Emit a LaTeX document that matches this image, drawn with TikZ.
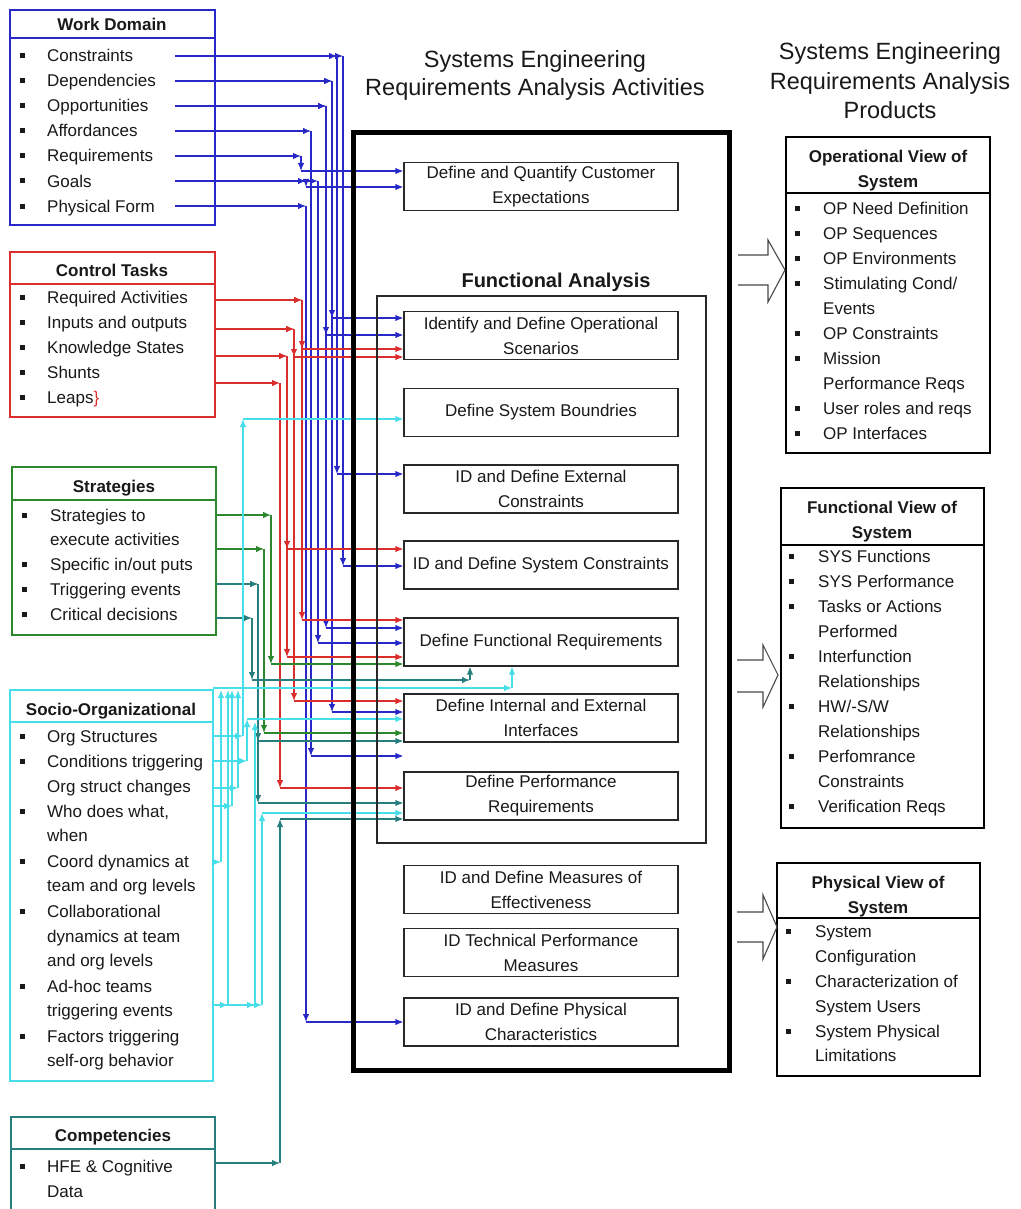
\documentclass[tikz,border=0pt]{standalone}
\usepackage{fontspec}
\setmainfont{Liberation Sans}
\usetikzlibrary{arrows.meta}
\definecolor{txt}{RGB}{25,25,25}
\definecolor{wdc}{RGB}{40,40,200}
\definecolor{ctc}{RGB}{220,45,45}
\definecolor{stc}{RGB}{45,135,45}
\definecolor{tlc}{RGB}{40,125,125}
\definecolor{cyc}{RGB}{70,222,232}
\definecolor{bxc}{RGB}{40,40,40}
\newcommand\cnx[6]{%
 \draw[#1] (#2,#3) -- (#4,#3);
 \draw[#1] (#4,#3) -- (#4,#5);
 \draw[#1] (#4,#5) -- (#6.west |- 0,#5);}
\newcommand\cnxup[7]{%
 \draw[#1] (#2,#3) -- (#4,#3);
 \draw[#1] (#4,#3) -- (#4,#5);
 \draw[#1] (#4,#5) -- (#6,#5);
 \draw[#1] (#6,#5) -- (#7.south -| #6,0);}
\newcommand\cnxv[5]{%
 \draw[#1] (#2,#3) -- (#4,#3);
 \draw[#1] (#4,#3) -- (#4,#5);}
\newcommand\bitem[5]{%
 \fill[txt] (#2-2.5,#4-2.5) rectangle (#2+2.5,#4+2.5);
 \node[itm] (#1) at (#3,#4+6) {#5};}
\newcommand\citem[4]{\node[itm] (#1) at (#2,#3+6) {#4};}
\tikzset{
 ln/.style={line width=1.2pt, -{Latex[length=8pt,width=6.5pt]}},
 bl/.style={ln, draw=wdc, fill=wdc},
 rd/.style={ln, draw=ctc, fill=ctc},
 gr/.style={ln, draw=stc, fill=stc},
 tl/.style={ln, draw=tlc, fill=tlc},
 cy/.style={ln, draw=cyc, fill=cyc},
 itm/.style={anchor=base west, inner sep=0pt, text=txt, font=\fontsize{17}{25}\selectfont},
 ttl/.style={anchor=base, inner sep=0pt, text=txt, font=\bfseries\fontsize{17}{25}\selectfont},
 hd/.style={anchor=base, inner sep=0pt, text=txt, font=\fontsize{23.5}{29}\selectfont},
 abox/.style={draw=bxc, line width=1.2pt, minimum width=274pt, minimum height=48pt, inner sep=0pt, align=center, text=txt, font=\fontsize{17}{25}\selectfont},
 lbox/.style={line width=2pt, inner sep=0pt},
 hol/.style={draw=bxc!85, line width=1.1pt},
}
\begin{document}
\begin{tikzpicture}[x=1pt,y=-1pt]
\useasboundingbox (0,0) rectangle (1020,1209);
\fill[white] (0,0) rectangle (1020,1209);

% ---------- middle boxes ----------
\node[abox] (cust) at (541,186.5) {Define and Quantify Customer\\Expectations};
\node[abox] (opsc) at (541,335.5) {Identify and Define Operational\\Scenarios};
\node[abox] (sysb) at (541,412.5) {Define System Boundries};
\node[abox] (extc) at (541,489) {ID and Define External\\Constraints};
\node[abox] (sysc) at (541,565) {ID and Define System Constraints};
\node[abox] (funr) at (541,642) {Define Functional Requirements};
\node[abox] (intf) at (541,718) {Define Internal and External\\Interfaces};
\node[abox] (perf) at (541,796) {Define Performance\\Requirements};
\node[abox] (moe) at (541,889.5) {ID and Define Measures of\\Effectiveness};
\node[abox] (tpm) at (541,952.5) {ID Technical Performance\\Measures};
\node[abox] (phys) at (541,1022) {ID and Define Physical\\Characteristics};

% ---------- headings ----------
\node[hd] (h1) at (535,68) {Systems Engineering};
\node[hd] (h2) at (535,96) {Requirements Analysis Activities};
\node[hd] (h3) at (890,60) {Systems Engineering};
\node[hd] (h4) at (890,90) {Requirements Analysis};
\node[hd] (h5) at (890,119) {Products};
\node[anchor=base, inner sep=0pt, text=txt, font=\bfseries\fontsize{20}{24}\selectfont] (fa) at (556,287) {Functional Analysis};

% ---------- Work Domain ----------
\node[lbox, draw=wdc, minimum width=205pt, minimum height=215pt] (wd) at (112.5,117.5) {};
\draw[wdc, line width=2pt] (wd.west |- 0,38) -- (wd.east |- 0,38);
\node[ttl] (wdt) at (112,31) {Work Domain};
\bitem{wd1}{22}{47}{56}{Constraints}
\bitem{wd2}{22}{47}{81}{Dependencies}
\bitem{wd3}{22}{47}{106}{Opportunities}
\bitem{wd4}{22}{47}{131}{Affordances}
\bitem{wd5}{22}{47}{156}{Requirements}
\bitem{wd6}{22}{47}{181}{Goals}
\bitem{wd7}{22}{47}{206}{Physical Form}

% ---------- Control Tasks ----------
\node[lbox, draw=ctc, minimum width=205pt, minimum height=165pt] (ct) at (112.5,334.5) {};
\draw[ctc, line width=2pt] (ct.west |- 0,284) -- (ct.east |- 0,284);
\node[ttl] (ctt) at (112,276) {Control Tasks};
\bitem{ct1}{22}{47}{297}{Required Activities}
\bitem{ct2}{22}{47}{322}{Inputs and outputs}
\bitem{ct3}{22}{47}{347}{Knowledge States}
\bitem{ct4}{22}{47}{372}{Shunts}
\bitem{ct5}{22}{47}{397}{Leaps\textcolor{ctc}{\}}}

% ---------- Strategies ----------
\node[lbox, draw=stc, minimum width=204pt, minimum height=168pt] (st) at (114,551) {};
\draw[stc, line width=2pt] (st.west |- 0,500) -- (st.east |- 0,500);
\node[ttl] (stt) at (114,492) {Strategies};
\bitem{st1}{24}{50}{515}{Strategies to}
\citem{st1b}{50}{539}{execute activities}
\bitem{st2}{24}{50}{564}{Specific in/out\ puts}
\bitem{st3}{24}{50}{589}{Triggering events}
\bitem{st4}{24}{50}{614}{Critical decisions}

% ---------- Socio-Organizational ----------
\node[lbox, draw=cyc, minimum width=203pt, minimum height=391pt] (so) at (111.5,885.5) {};
\draw[cyc, line width=2pt] (so.west |- 0,722) -- (so.east |- 0,722);
\node[ttl] (sot) at (111,715) {Socio-Organizational};
\bitem{so1}{22}{47}{736}{Org Structures}
\bitem{so2}{22}{47}{761}{Conditions triggering}
\citem{so2b}{47}{786}{Org struct changes}
\bitem{so3}{22}{47}{811}{Who does what,}
\citem{so3b}{47}{835}{when}
\bitem{so4}{22}{47}{861}{Coord dynamics at}
\citem{so4b}{47}{885}{team and org levels}
\bitem{so5}{22}{47}{911}{Collaborational}
\citem{so5b}{47}{936}{dynamics at team}
\citem{so5c}{47}{960}{and org levels}
\bitem{so6}{22}{47}{986}{Ad-hoc teams}
\citem{so6b}{47}{1010}{triggering events}
\bitem{so7}{22}{47}{1036}{Factors triggering}
\citem{so7b}{47}{1060}{self-org behavior}

% ---------- Competencies ----------
\node[lbox, draw=tlc, minimum width=204pt, minimum height=103pt] (co) at (113,1168.5) {};
\draw[tlc, line width=2pt] (co.west |- 0,1149) -- (co.east |- 0,1149);
\node[ttl] (cot) at (113,1141) {Competencies};
\bitem{co1}{22}{47}{1166}{HFE \& Cognitive}
\citem{co1b}{47}{1191}{Data}

% ---------- connectors: Work Domain ----------
\cnx{bl}{175}{56}{337}{474}{extc}
\cnx{bl}{175}{56}{343}{566}{sysc}
\cnx{bl}{175}{81}{332}{318}{opsc}
\cnx{bl}{175}{81}{332}{712}{intf}
\cnx{bl}{175}{106}{326}{335}{opsc}
\cnx{bl}{175}{106}{326}{628}{funr}
\cnx{bl}{175}{131}{311}{756}{intf}
\cnx{bl}{175}{156}{301}{171}{cust}
\cnx{bl}{175}{181}{306}{187}{cust}
\cnx{bl}{175}{181}{318}{643}{funr}
\cnx{bl}{175}{206}{306}{1022}{phys}

% ---------- connectors: Control Tasks ----------
\cnx{rd}{215}{300}{302}{349}{opsc}
\cnx{rd}{215}{300}{302}{620}{funr}
\cnx{rd}{215}{329}{294}{357}{opsc}
\cnx{rd}{215}{329}{294}{701}{intf}
\cnx{rd}{215}{356}{287}{549}{sysc}
\cnx{rd}{215}{356}{287}{657}{funr}
\cnx{rd}{215}{383}{280}{788}{perf}

% ---------- connectors: Strategies ----------
\cnx{gr}{216}{515}{271}{664}{funr}
\cnx{gr}{216}{549}{264}{733}{intf}
\cnx{tl}{216}{584}{258}{741}{intf}
\cnx{tl}{216}{584}{258}{803}{perf}
\cnxup{tl}{216}{618}{252}{680}{470}{funr}

% ---------- connectors: Socio-Organizational ----------
\draw[cy] (213,688) -- (512,688);
\draw[cy] (512,688) -- (funr.south -| 512,0);
\cnx{cy}{213}{736}{243}{419}{sysb}
\cnx{cy}{213}{761}{247}{719}{intf}
\cnxv{cy}{213}{788}{238}{690}
\cnxv{cy}{213}{806}{232}{690}
\cnxv{cy}{213}{862}{221}{690}
\cnx{cy}{213}{1005}{262}{813}{perf}
\cnxv{cy}{213}{1005}{228}{690}
\cnxv{cy}{213}{1005}{255}{722}

% ---------- connectors: Competencies ----------
\cnx{tl}{215}{1163}{280}{819}{perf}

% ---------- frames ----------
\node[draw=bxc, line width=1.5pt, minimum width=329pt, minimum height=547pt, inner sep=0pt] (fab) at (541.5,569.5) {};
\node[draw=black, line width=5pt, minimum width=376pt, minimum height=937pt, inner sep=0pt] (act) at (541,601.5) {};

% ---------- Operational view ----------
\node[lbox, draw=black, minimum width=204pt, minimum height=316pt] (ov) at (888,295) {};
\draw[black, line width=2pt] (ov.west |- 0,193) -- (ov.east |- 0,193);
\node[ttl] (ovt) at (888,163) {Operational View of};
\node[ttl] (ovt2) at (888,187) {System};
\bitem{ov1}{797}{823}{208}{OP Need Definition}
\bitem{ov2}{797}{823}{233}{OP Sequences}
\bitem{ov3}{797}{823}{258}{OP Environments}
\bitem{ov4}{797}{823}{283}{Stimulating Cond/}
\citem{ov4b}{823}{308}{Events}
\bitem{ov5}{797}{823}{333}{OP Constraints}
\bitem{ov6}{797}{823}{358}{Mission}
\citem{ov6b}{823}{383}{Performance Reqs}
\bitem{ov7}{797}{823}{408}{User roles and reqs}
\bitem{ov8}{797}{823}{433}{OP Interfaces}

% ---------- Functional view ----------
\node[lbox, draw=black, minimum width=203pt, minimum height=340pt] (fv) at (882.5,658) {};
\draw[black, line width=2pt] (fv.west |- 0,545) -- (fv.east |- 0,545);
\node[ttl] (fvt) at (882,513) {Functional View of};
\node[ttl] (fvt2) at (882,538) {System};
\bitem{fv1}{791}{818}{556}{SYS Functions}
\bitem{fv2}{791}{818}{581}{SYS Performance}
\bitem{fv3}{791}{818}{606}{Tasks or Actions}
\citem{fv3b}{818}{631}{Performed}
\bitem{fv4}{791}{818}{656}{Interfunction}
\citem{fv4b}{818}{681}{Relationships}
\bitem{fv5}{791}{818}{706}{HW/-S/W}
\citem{fv5b}{818}{731}{Relationships}
\bitem{fv6}{791}{818}{756}{Perfomrance}
\citem{fv6b}{818}{781}{Constraints}
\bitem{fv7}{791}{818}{806}{Verification Reqs}

% ---------- Physical view ----------
\node[lbox, draw=black, minimum width=203pt, minimum height=213pt] (pv) at (878.5,969.5) {};
\draw[black, line width=2pt] (pv.west |- 0,918) -- (pv.east |- 0,918);
\node[ttl] (pvt) at (878,888) {Physical View of};
\node[ttl] (pvt2) at (878,913) {System};
\bitem{pv1}{788}{815}{931}{System}
\citem{pv1b}{815}{956}{Configuration}
\bitem{pv2}{788}{815}{981}{Characterization of}
\citem{pv2b}{815}{1006}{System Users}
\bitem{pv3}{788}{815}{1031}{System Physical}
\citem{pv3b}{815}{1055}{Limitations}

% ---------- hollow arrows ----------
\draw[hol] (738,255) -- (768,255) -- (768,240) -- (785,270) -- (768,302) -- (768,285) -- (738,285);
\draw[hol] (737,660) -- (763,660) -- (763,645) -- (778,675) -- (763,707) -- (763,692) -- (737,692);
\draw[hol] (737,912) -- (763,912) -- (763,895) -- (777,927) -- (763,959) -- (763,942) -- (737,942);
\end{tikzpicture}
\end{document}
